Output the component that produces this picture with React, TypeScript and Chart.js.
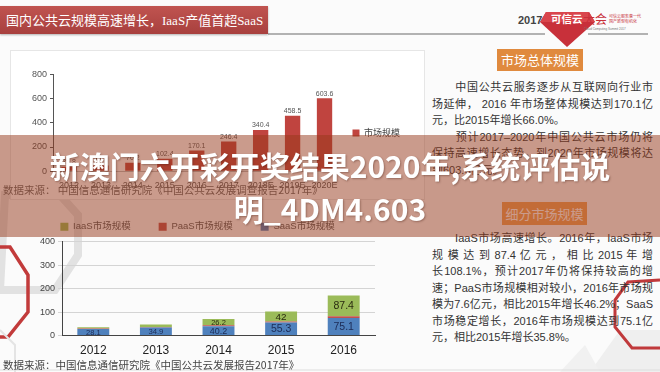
import React, { useEffect, useRef } from "react";
import Chart from "chart.js/auto";

const totalYears = ["2012", "2013", "2014", "2015", "2016", "2017", "2018E", "2019E", "2020E"];
const totalValues = [35.8, 47.6, 70.2, 102.4, 170.1, 246.4, 340.4, 458.5, 603.6];
const totalTicks = [0, 200, 400, 600, 800];
const totalLabel = "市场规模";

const segYears = ["2012", "2013", "2014", "2015", "2016"];
const iaasValues = [5.9, 10.6, 26.2, 42.0, 87.4];
const paasValues = [1.8, 2.1, 3.8, 5.1, 7.6];
const saasValues = [28.1, 34.9, 40.2, 55.3, 75.1];
const segTicks = [0, 100, 200, 300, 400];

const FONT = '"Liberation Sans", "Noto Sans CJK SC", sans-serif';
const CJK = '"Noto Sans CJK SC", "Liberation Sans", sans-serif';

const para1 = [
  "\u3000\u3000中国公共云服务逐步从互联网向行业市",
  "场延伸， 2016 年市场整体规模达到170.1亿",
  "元，比2015年增长66.0%。",
  "\u3000\u3000预计2017–2020年中国公共云市场仍将",
  "保持高速增长态势，到2020年市场规模将达",
  "到603.6亿元。",
];
const para2 = [
  "\u3000\u3000IaaS市场高速增长。2016年，IaaS市场",
  "规 模 达 到 87.4 亿 元 ， 相 比 2015 年 增",
  "长108.1%，预计2017年仍将保持较高的增",
  "速；PaaS市场规模相对较小，2016年市场规",
  "模为7.6亿元，相比2015年增长46.2%；SaaS",
  "市场稳定增长，2016年市场规模达到75.1亿",
  "元，相比2015年增长35.8%。",
];

const topLabels = {
  id: "topLabels",
  afterDatasetsDraw(chart: any) {
    const ctx = chart.ctx;
    const meta = chart.getDatasetMeta(0);
    ctx.save();
    ctx.font = `7px ${FONT}`;
    ctx.fillStyle = "#555";
    ctx.textAlign = "center";
    ctx.textBaseline = "bottom";
    meta.data.forEach((el: any, i: number) => {
      ctx.fillText(String(chart.data.datasets[0].data[i]), el.x, el.y - 1);
    });
    ctx.restore();
  },
};

const segLabels = {
  id: "segLabels",
  afterDatasetsDraw(chart: any) {
    const ctx = chart.ctx;
    ctx.save();
    ctx.textAlign = "center";
    ctx.textBaseline = "middle";
    [0, 2].forEach((di) => {
      const meta = chart.getDatasetMeta(di);
      meta.data.forEach((el: any, i: number) => {
        const h = el.base - el.y;
        if (h < 6) return;
        const fs = Math.max(7.5, Math.min(10.5, h));
        ctx.font = `${fs}px ${FONT}`;
        ctx.fillStyle = di === 0 ? "#1c2b55" : "#2a2a10";
        ctx.fillText(String(chart.data.datasets[di].data[i]), el.x, (el.y + el.base) / 2 + 0.5);
      });
    });
    ctx.restore();
  },
};

function TopChart() {
  const ref = useRef<HTMLCanvasElement>(null);
  useEffect(() => {
    const chart = new Chart(ref.current!, {
      type: "bar",
      data: {
        labels: totalYears,
        datasets: [
          {
            label: totalLabel,
            data: totalValues,
            backgroundColor: "#c0443f",
            categoryPercentage: 1,
            barPercentage: 0.48,
          },
        ],
      },
      options: {
        animation: false,
        responsive: false,
        layout: { padding: { top: 8, right: 10, left: 0, bottom: 0 } },
        plugins: {
          legend: {
            position: "right",
            labels: { boxWidth: 7, boxHeight: 7, font: { size: 9, family: CJK }, color: "#444", padding: 12 },
          },
          tooltip: { enabled: false },
        },
        scales: {
          x: {
            grid: { display: false },
            border: { display: true, color: "#bbb" },
            ticks: { font: { size: 9, family: FONT }, color: "#555", maxRotation: 0, autoSkip: false, padding: 1 },
          },
          y: {
            min: 0,
            max: 800,
            afterBuildTicks: (s: any) => {
              s.ticks = totalTicks.map((v) => ({ value: v }));
            },
            afterFit: (s: any) => {
              s.width = 33;
            },
            grid: { drawOnChartArea: false, drawTicks: true, tickLength: 3, color: "#555" },
            border: { display: true, color: "#555" },
            ticks: { font: { size: 9, family: FONT }, color: "#555", padding: 3 },
          },
        },
      } as any,
      plugins: [topLabels],
    });
    return () => chart.destroy();
  }, []);
  return (
    <canvas
      ref={ref}
      width={400}
      height={126}
      style={{ position: "absolute", left: 20, top: 66, width: 400, height: 126 }}
    />
  );
}

function SegChart() {
  const ref = useRef<HTMLCanvasElement>(null);
  useEffect(() => {
    const chart = new Chart(ref.current!, {
      type: "bar",
      data: {
        labels: segYears,
        datasets: [
          { label: "SaaS市场规模", data: saasValues, backgroundColor: "#4f81bd", categoryPercentage: 1, barPercentage: 0.51 },
          { label: "PaaS市场规模", data: paasValues, backgroundColor: "#c0504d", categoryPercentage: 1, barPercentage: 0.51 },
          { label: "IaaS市场规模", data: iaasValues, backgroundColor: "#9bbb59", categoryPercentage: 1, barPercentage: 0.51 },
        ],
      },
      options: {
        animation: false,
        responsive: false,
        layout: { padding: { top: 0, right: 15, left: 0, bottom: 0 } },
        plugins: {
          legend: {
            position: "top",
            reverse: true,
            labels: { boxWidth: 8, boxHeight: 8, font: { size: 9.5, family: FONT }, color: "#555", padding: 28 },
          },
          tooltip: { enabled: false },
        },
        scales: {
          x: {
            stacked: true,
            grid: { display: false },
            border: { display: true, color: "#444" },
            ticks: { font: { size: 12, family: FONT }, color: "#222", maxRotation: 0, padding: 0 },
          },
          y: {
            stacked: true,
            min: 0,
            max: 400,
            afterBuildTicks: (s: any) => {
              s.ticks = segTicks.map((v) => ({ value: v }));
            },
            afterFit: (s: any) => {
              s.width = 42;
            },
            grid: { color: "#d4d4d4", drawTicks: true, tickLength: 4 },
            border: { display: true, color: "#444" },
            ticks: { font: { size: 9, family: FONT }, color: "#444", padding: 3 },
          },
        },
      } as any,
      plugins: [segLabels],
    });
    return () => chart.destroy();
  }, []);
  return (
    <canvas
      ref={ref}
      width={370}
      height={164}
      style={{ position: "absolute", left: 20, top: 194, width: 370, height: 164 }}
    />
  );
}

function Para({ lines, top }: { lines: string[]; top: number }) {
  return (
    <>
      {lines.map((l, i) => {
        const end = l.endsWith("。");
        return (
          <div
            key={i}
            style={{
              position: "absolute",
              left: 432,
              top: top + i * 16.5 - 8,
              width: 221,
              height: 16,
              lineHeight: "16px",
              fontSize: 11,
              fontFamily: FONT,
              color: "#333",
              whiteSpace: "nowrap",
              textAlign: end ? "left" : "justify",
              textAlignLast: end ? "left" : "justify",
            } as any}
          >
            {l}
          </div>
        );
      })}
    </>
  );
}

export default function App() {
  return (
    <div
      style={{
        position: "absolute",
        left: 0,
        top: 0,
        width: 660,
        height: 372,
        overflow: "hidden",
        background: "#fbfbfb",
        fontFamily: FONT,
      }}
    >
      <svg width={660} height={372} style={{ position: "absolute", left: 0, top: 0 }}>
        <polygon points="5,195 60,195 78,215 78,255 55,290 0,290" fill="none" stroke="#e2e2e2" strokeWidth={8} />
        <polyline points="0,247 10,247 28,275 28,312 8,337 0,337" fill="none" stroke="#c23b3b" strokeWidth={3.5} />
        <polyline points="0,330 15,345 15,372" fill="none" stroke="#e4e4e4" strokeWidth={2} />
        <polygon points="590,372 620,330 660,330 660,372" fill="#efefef" />
        <polygon points="560,372 585,345 600,372" fill="#f1f1f1" />
        <polyline points="660,280 628,282 615,300 615,327 632,348 660,348" fill="none" stroke="#c0393b" strokeWidth={3} />
        <line x1={0} y1={370} x2={660} y2={370} stroke="#ddd" strokeWidth={1} />
        <line x1={268} y1={34} x2={545} y2={34} stroke="#9a9a9a" strokeWidth={1.5} />
        <line x1={588} y1={34} x2={648} y2={34} stroke="#9a9a9a" strokeWidth={1.5} />
        <polygon points="546,12 589,12 595,22 567,47 540,22" fill="#c8303a" />
        <polygon points="546,12 589,12 595,22 540,22" fill="#d9454c" />
      </svg>

      {/* header banner */}
      <div
        style={{
          position: "absolute",
          left: 0,
          top: 6,
          width: 268,
          height: 28,
          background: "linear-gradient(#c05450, #a8403e)",
          boxShadow: "0 1px 2px rgba(0,0,0,0.3)",
        }}
      />
      <div
        style={{
          position: "absolute",
          left: 6,
          top: 9,
          fontSize: 13,
          lineHeight: "22px",
          color: "#fff",
          fontFamily: CJK,
          whiteSpace: "nowrap",
        }}
      >
        国内公共云规模高速增长，<span style={{ fontFamily: '"Liberation Serif", serif' }}>IaaS</span>产值首超
        <span style={{ fontFamily: '"Liberation Serif", serif' }}>SaaS</span>
      </div>

      {/* logo */}
      <div style={{ position: "absolute", left: 518, top: 14, fontSize: 11, fontWeight: 700, color: "#444", fontFamily: FONT }}>
        2017
      </div>
      <div style={{ position: "absolute", left: 551, top: 11, fontSize: 10.5, color: "#fff", fontFamily: CJK, fontWeight: 700 }}>
        可信云
      </div>
      <div style={{ position: "absolute", left: 583, top: 10, fontSize: 12, color: "#c8303a", fontFamily: CJK }}>
        大会
      </div>
      <div style={{ position: "absolute", left: 609, top: 14, fontSize: 4, lineHeight: "5px", color: "#c8303a", fontFamily: CJK }}>
        可信云服务惠一代
        <br />
        国产新型有机化
      </div>
      <div style={{ position: "absolute", left: 584, top: 27, fontSize: 3, color: "#777", fontFamily: FONT }}>
        Cloud Computing Summit 2017
      </div>

      {/* panels */}
      <div style={{ position: "absolute", left: 10, top: 50, width: 413, height: 148, background: "#fff", border: "1px solid #e6e6e6" }} />

      <TopChart />
      <SegChart />

      <div style={{ position: "absolute", left: 3, top: 182, fontSize: 10.5, color: "#666", fontFamily: CJK, whiteSpace: "nowrap" }}>
        数据来源： 中国信息通信研究院《中国公共云发展调查报告2017年》
      </div>
      <div style={{ position: "absolute", left: 3, top: 357, fontSize: 10.5, color: "#444", fontFamily: CJK, whiteSpace: "nowrap" }}>
        数据来源：中国信息通信研究院《中国公共云发展报告2017年》
      </div>

      {/* right text */}
      <div
        style={{
          position: "absolute",
          left: 497,
          top: 49,
          width: 86,
          height: 22,
          background: "#e08a3e",
          color: "#fff",
          fontSize: 13,
          lineHeight: "22px",
          textAlign: "center",
          fontFamily: CJK,
        }}
      >
        市场总体规模
      </div>
      <Para lines={para1} top={87} />
      <div
        style={{
          position: "absolute",
          left: 502,
          top: 202,
          width: 85,
          height: 23,
          background: "#f0a055",
          color: "#fff",
          fontSize: 13,
          lineHeight: "23px",
          textAlign: "center",
          fontFamily: CJK,
        }}
      >
        细分市场规模
      </div>
      <Para lines={para2} top={238} />

      {/* overlay */}
      <div
        style={{
          position: "absolute",
          left: 0,
          top: 135,
          width: 660,
          height: 102,
          background: "rgba(150,55,25,0.5)",
        }}
      />
      <div
        style={{
          position: "absolute",
          left: 0,
          top: 144,
          width: 660,
          textAlign: "center",
          color: "#fff",
          fontSize: 30,
          fontWeight: 700,
          lineHeight: "43px",
          fontFamily: CJK,
          textShadow: "1px 1px 2px rgba(60,20,10,0.35)",
          whiteSpace: "nowrap",
        }}
      >
        新澳门六开彩开奖结果2020年,系统评估说
        <br />
        明_4DM4.603
      </div>
    </div>
  );
}
